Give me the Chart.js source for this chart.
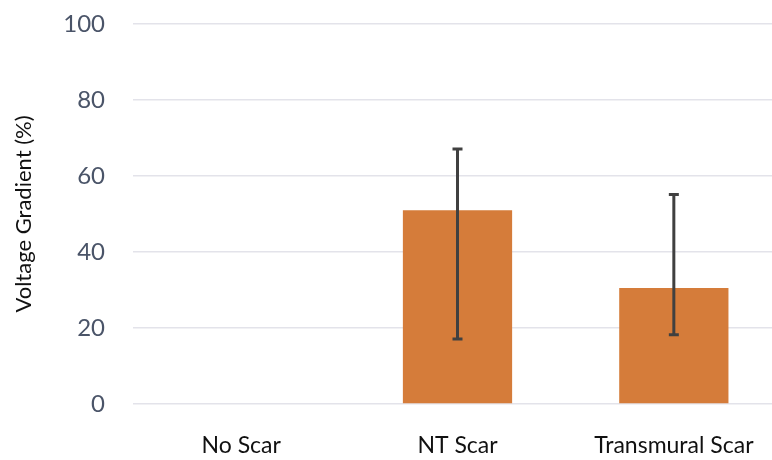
<!DOCTYPE html>
<html>
<head>
<meta charset="utf-8">
<script src="https://cdn.jsdelivr.net/npm/chart.js@4/dist/chart.umd.min.js"></script>
<style>
  html, body { margin: 0; padding: 0; background: #fff; overflow: hidden; }
  #wrap { width: 782px; height: 460px; position: relative; }
</style>
</head>
<body>
<div id="wrap"><canvas id="chart"></canvas></div>
<script>
const categories = ["No Scar", "NT Scar", "Transmural Scar"];
const gradientValues = [0, 51, 30.5];
const errLow = [null, 17.1, 18.2];
const errHigh = [null, 67.1, 55.1];
const yTicks = [0, 20, 40, 60, 80, 100];

const errorBars = {
  id: "errorBars",
  afterDatasetsDraw(chart) {
    const { ctx, scales } = chart;
    const meta = chart.getDatasetMeta(0);
    ctx.save();
    ctx.strokeStyle = "#404040";
    ctx.lineWidth = 3;
    meta.data.forEach((bar, i) => {
      if (errLow[i] == null || errHigh[i] == null) return;
      const x = bar.x;
      const yLo = scales.y.getPixelForValue(errLow[i]);
      const yHi = scales.y.getPixelForValue(errHigh[i]);
      ctx.beginPath();
      ctx.moveTo(x, yLo);
      ctx.lineTo(x, yHi);
      ctx.moveTo(x - 5, yHi);
      ctx.lineTo(x + 5, yHi);
      ctx.moveTo(x - 5, yLo);
      ctx.lineTo(x + 5, yLo);
      ctx.stroke();
    });
    ctx.restore();
  },
};

const font = "Lato, 'Open Sans', sans-serif";

const chart = new Chart(document.getElementById("chart"), {
  type: "bar",
  data: {
    labels: categories,
    datasets: [{
      data: gradientValues,
      backgroundColor: "#D57C3A",
      borderWidth: 0,
      barPercentage: 1.0,
      categoryPercentage: 0.505,
    }],
  },
  options: {
    animation: false,
    responsive: true,
    maintainAspectRatio: false,
    layout: { padding: { top: 24, right: 0, bottom: 0, left: 0 } },
    plugins: { legend: { display: false }, tooltip: { enabled: false } },
    scales: {
      x: {
        afterFit: (s) => { s.height = 56; },
        grid: { display: false, drawTicks: false },
        border: { display: false },
        ticks: {
          padding: 28,
          color: "#111",
          font: { family: font, size: 23 },
        },
      },
      y: {
        min: 0,
        max: 100,
        afterBuildTicks: (s) => { s.ticks = yTicks.map((v) => ({ value: v })); },
        afterFit: (s) => {
          s.width = 133;
          s.paddingTop = 0;
          s.paddingBottom = 0;
        },
        grid: { color: "#E3E3EA", lineWidth: 1.5, drawTicks: false },
        border: { display: false },
        ticks: {
          padding: 28,
          color: "#4A5468",
          font: { family: font, size: 24 },
        },
        title: {
          display: true,
          text: "Voltage Gradient (%)",
          color: "#111",
          padding: { top: 11, bottom: 0 },
          font: { family: font, size: 22 },
        },
      },
    },
  },
  plugins: [errorBars],
});
</script>
</body>
</html>
